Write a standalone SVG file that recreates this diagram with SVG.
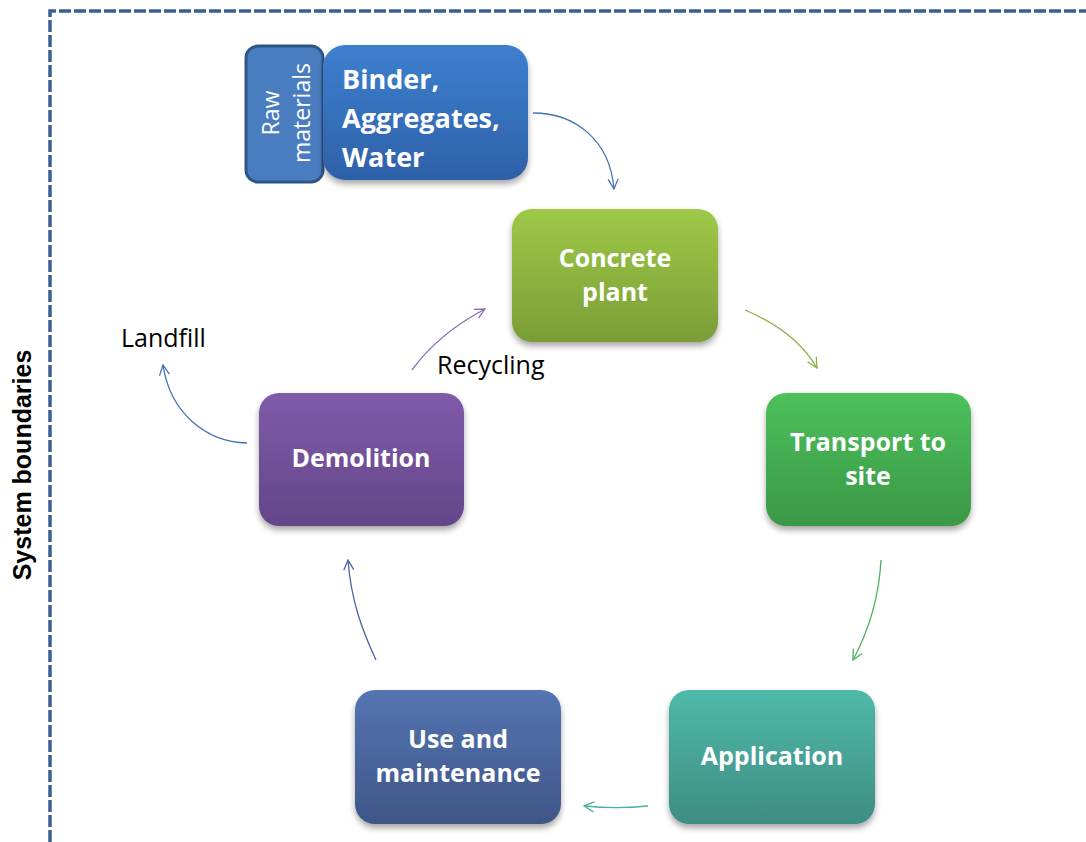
<svg xmlns="http://www.w3.org/2000/svg" width="1086" height="842" viewBox="0 0 1086 842">
<style>
.lbl{font-family:"Open Sans","Liberation Sans",sans-serif;font-weight:bold;fill:#fff;text-anchor:middle;font-size:25px}
.plain{font-family:"Open Sans","Liberation Sans",sans-serif;fill:#000;font-size:25px}
.conn path{fill:none;stroke-width:1.3}
</style>
<defs>
<filter id="sh" x="-10%" y="-10%" width="120%" height="130%">
<feGaussianBlur in="SourceAlpha" stdDeviation="3"/>
<feOffset dy="4"/>
<feComponentTransfer><feFuncA type="linear" slope="0.35"/></feComponentTransfer>
<feMerge><feMergeNode/><feMergeNode in="SourceGraphic"/></feMerge>
</filter>
<linearGradient id="gBlue" x1="0" y1="0" x2="0" y2="1"><stop offset="0" stop-color="#3D80CF"/><stop offset="1" stop-color="#2E60A8"/></linearGradient>
<linearGradient id="gOlive" x1="0" y1="0" x2="0" y2="1"><stop offset="0" stop-color="#9FC947"/><stop offset="1" stop-color="#7A9D37"/></linearGradient>
<linearGradient id="gGreen" x1="0" y1="0" x2="0" y2="1"><stop offset="0" stop-color="#4CC05B"/><stop offset="1" stop-color="#3A9846"/></linearGradient>
<linearGradient id="gTeal" x1="0" y1="0" x2="0" y2="1"><stop offset="0" stop-color="#4FB9AA"/><stop offset="1" stop-color="#3E8D82"/></linearGradient>
<linearGradient id="gNavy" x1="0" y1="0" x2="0" y2="1"><stop offset="0" stop-color="#5474B2"/><stop offset="1" stop-color="#3F5687"/></linearGradient>
<linearGradient id="gPurple" x1="0" y1="0" x2="0" y2="1"><stop offset="0" stop-color="#7F5BA9"/><stop offset="1" stop-color="#634689"/></linearGradient>
<marker id="mBlue" viewBox="0 0 12 12" refX="11" refY="6" markerWidth="12" markerHeight="12" markerUnits="userSpaceOnUse" orient="auto"><path d="M1,1 L11,6 L1,11" fill="none" stroke="#4472B8" stroke-width="1.3"/></marker>
<marker id="mOlive" viewBox="0 0 12 12" refX="11" refY="6" markerWidth="12" markerHeight="12" markerUnits="userSpaceOnUse" orient="auto"><path d="M1,1 L11,6 L1,11" fill="none" stroke="#8DB246" stroke-width="1.3"/></marker>
<marker id="mGreen" viewBox="0 0 12 12" refX="11" refY="6" markerWidth="12" markerHeight="12" markerUnits="userSpaceOnUse" orient="auto"><path d="M1,1 L11,6 L1,11" fill="none" stroke="#4DB05A" stroke-width="1.3"/></marker>
<marker id="mTeal" viewBox="0 0 12 12" refX="11" refY="6" markerWidth="12" markerHeight="12" markerUnits="userSpaceOnUse" orient="auto"><path d="M1,1 L11,6 L1,11" fill="none" stroke="#4AAE9F" stroke-width="1.3"/></marker>
<marker id="mNavy" viewBox="0 0 12 12" refX="11" refY="6" markerWidth="12" markerHeight="12" markerUnits="userSpaceOnUse" orient="auto"><path d="M1,1 L11,6 L1,11" fill="none" stroke="#4A66A8" stroke-width="1.3"/></marker>
<marker id="mPurple" viewBox="0 0 12 12" refX="11" refY="6" markerWidth="12" markerHeight="12" markerUnits="userSpaceOnUse" orient="auto"><path d="M1,1 L11,6 L1,11" fill="none" stroke="#8A6BB5" stroke-width="1.3"/></marker>
</defs>
<rect width="1086" height="842" fill="#fff"/>
<g id="boundary">
<path d="M50,842 L50,11 L1086,11" fill="none" stroke="#3B5F92" stroke-width="3.5" stroke-dasharray="12,3"/>
<text transform="translate(31,465) rotate(-90)" text-anchor="middle" font-family="'Liberation Sans',Arial,sans-serif" font-weight="bold" font-size="25" fill="#000">System boundaries</text>
</g>
<g class="conn" id="connectors">
<path d="M533,113 C575,113 610,140 614,189" stroke="#4472B8" marker-end="url(#mBlue)"/>
<path d="M745,310 C778,324 803,344 817,368" stroke="#8DB246" marker-end="url(#mOlive)"/>
<path d="M881,560 C879,598 869,630 853,660" stroke="#4DB05A" marker-end="url(#mGreen)"/>
<path d="M648,806 C628,808 605,808 584,806" stroke="#4AAE9F" marker-end="url(#mTeal)"/>
<path d="M376,660 C362,630 351,600 348,560" stroke="#4A66A8" marker-end="url(#mNavy)"/>
<path d="M247,443 C205,442 170,412 163,365" stroke="#4472B8" marker-end="url(#mBlue)"/>
<path d="M412,370 C430,345 455,325 485,309" stroke="#8A6BB5" marker-end="url(#mPurple)"/>
</g>
<g id="raw">
<rect x="246" y="46" width="77" height="136" rx="12" fill="#4A7DBF" stroke="#2F5586" stroke-width="3"/>
<text transform="translate(279,113) rotate(-90)" text-anchor="middle" font-family="'Open Sans','Liberation Sans',sans-serif" font-size="23" fill="#fff">Raw</text>
<text transform="translate(310,113) rotate(-90)" text-anchor="middle" font-family="'Open Sans','Liberation Sans',sans-serif" font-size="23" fill="#fff">materials</text>
</g>
<g id="binder">
<rect x="323" y="45" width="205" height="135" rx="22" fill="url(#gBlue)" filter="url(#sh)"/>
<text class="lbl" style="font-size:27px;text-anchor:start"><tspan x="342" y="89">Binder,</tspan><tspan x="342" y="128">Aggregates,</tspan><tspan x="342" y="167">Water</tspan></text>
</g>
<g id="plant">
<rect x="512" y="209" width="206" height="133" rx="20" fill="url(#gOlive)" filter="url(#sh)"/>
<text class="lbl"><tspan x="615" y="267">Concrete</tspan><tspan x="615" y="301">plant</tspan></text>
</g>
<g id="transport">
<rect x="766" y="393" width="205" height="133" rx="20" fill="url(#gGreen)" filter="url(#sh)"/>
<text class="lbl"><tspan x="868" y="451">Transport to</tspan><tspan x="868" y="485">site</tspan></text>
</g>
<g id="application">
<rect x="669" y="690" width="206" height="134" rx="20" fill="url(#gTeal)" filter="url(#sh)"/>
<text class="lbl" x="772" y="765">Application</text>
</g>
<g id="use">
<rect x="355" y="690" width="206" height="134" rx="20" fill="url(#gNavy)" filter="url(#sh)"/>
<text class="lbl"><tspan x="458" y="748">Use and</tspan><tspan x="458" y="782">maintenance</tspan></text>
</g>
<g id="demolition">
<rect x="259" y="393" width="205" height="133" rx="20" fill="url(#gPurple)" filter="url(#sh)"/>
<text class="lbl" x="361" y="467">Demolition</text>
</g>
<g id="labels">
<text class="plain" x="121" y="347">Landfill</text>
<text class="plain" x="437" y="374">Recycling</text>
</g>
</svg>
